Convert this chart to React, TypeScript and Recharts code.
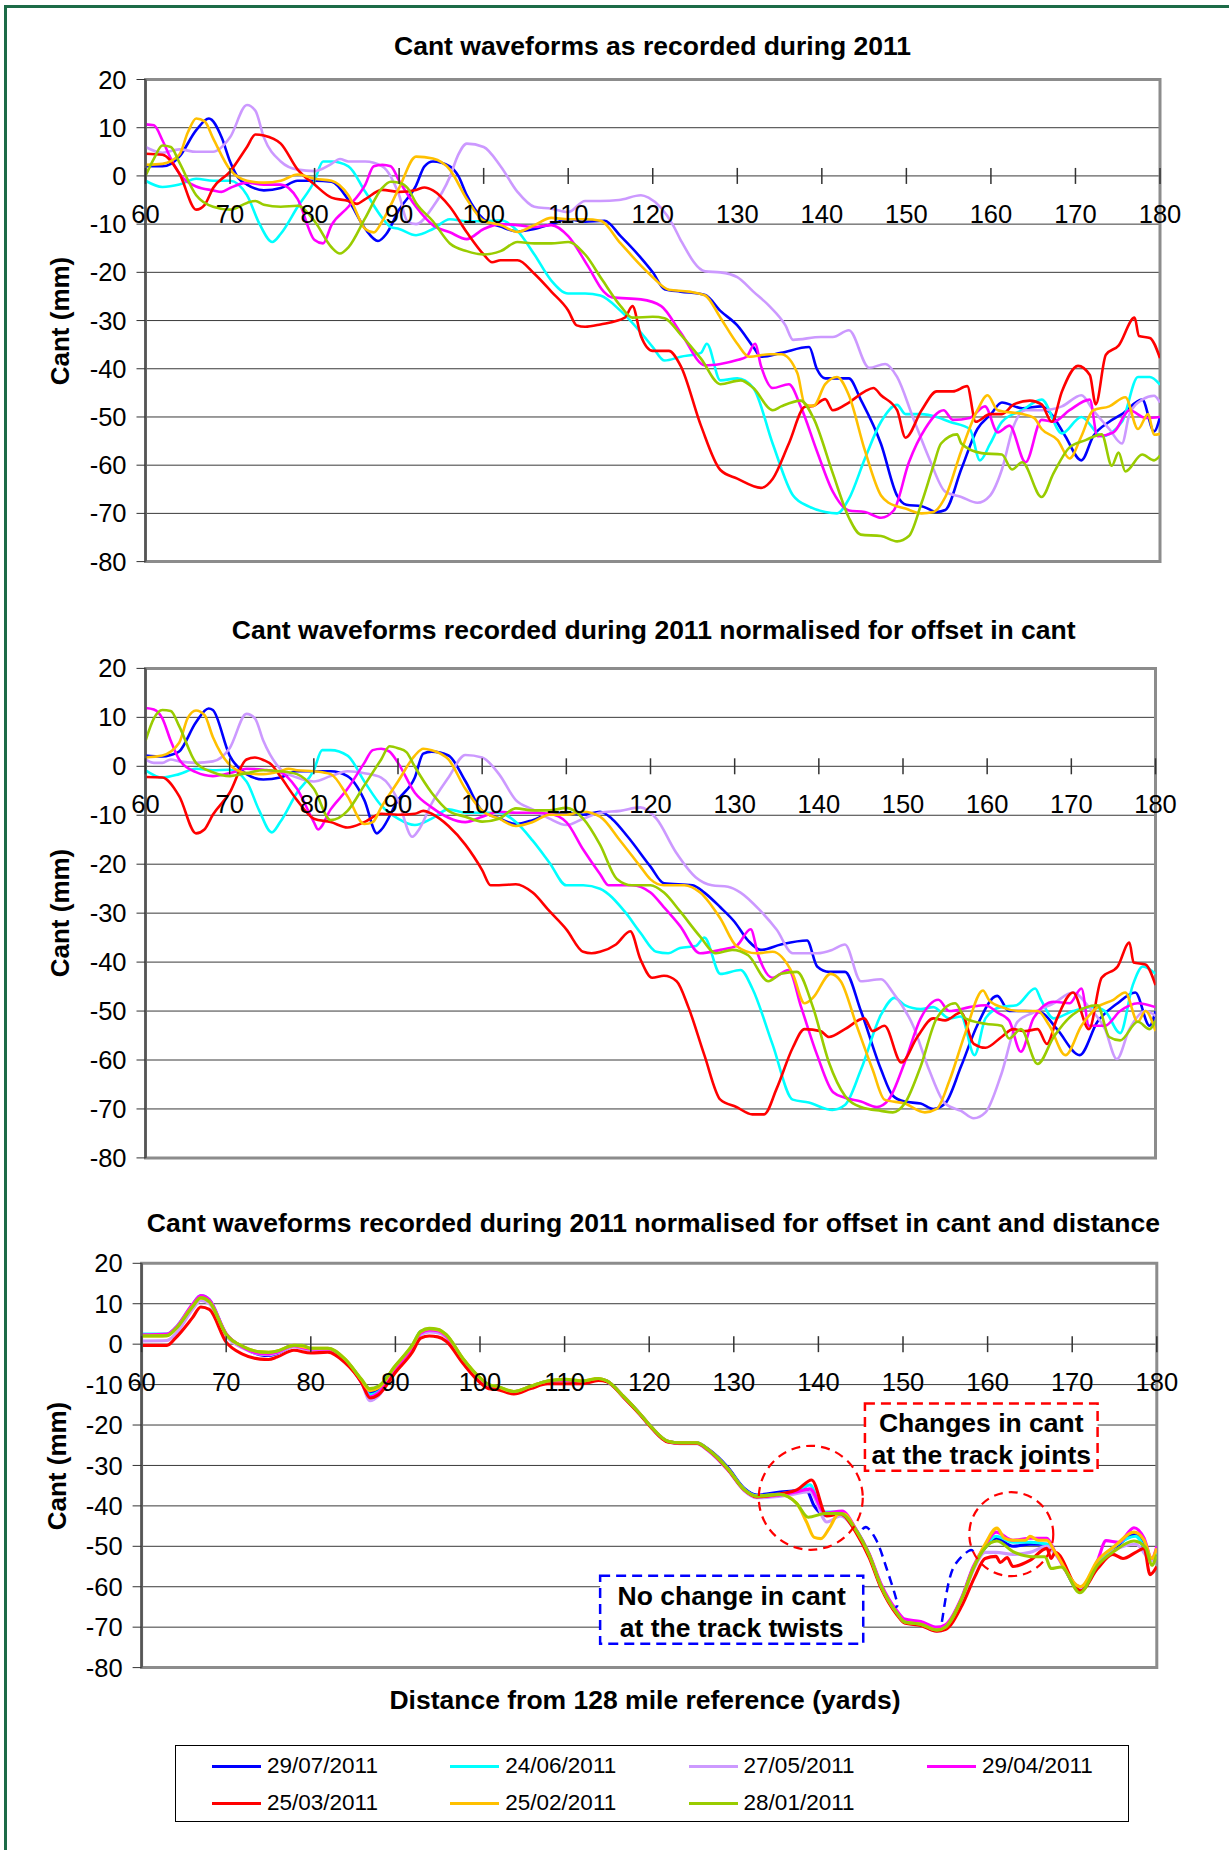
import { LineChart, Line, XAxis, YAxis, CartesianGrid, ReferenceDot, ReferenceArea } from "recharts"

type Pt = [number, number]

const dates = ["29/07/2011", "24/06/2011", "27/05/2011", "29/04/2011", "25/03/2011", "25/02/2011", "28/01/2011"]
const colours = ["#0000ff", "#00ffff", "#cc99ff", "#ff00ff", "#ff0000", "#ffc000", "#99cc00"]
const xTicks = [60, 70, 80, 90, 100, 110, 120, 130, 140, 150, 160, 170, 180]
const yTicks = [20, 10, 0, -10, -20, -30, -40, -50, -60, -70, -80]

const titles = [
  "Cant waveforms as recorded during 2011",
  "Cant waveforms recorded during 2011 normalised for offset in cant",
  "Cant waveforms recorded during 2011 normalised for offset in cant and distance",
]
const yLabel = "Cant (mm)"
const xLabel = "Distance from 128 mile reference (yards)"
const jointsNote = ["Changes in cant", "at the track joints"]
const twistsNote = ["No change in cant", "at the track twists"]

// chart 1 - as recorded (distance in yards, cant in mm)
const blue1: Pt[] = [[60,2],[62,2],[63,2.5],[64,4],[66,9.5],[67.5,11.9],[69,8],[70,3],[71,-0.5],[72,-1.8],[74,-3],[76,-2.5],[78,-1],[80,-1],[82,-1.2],[84,-5],[86,-11],[87.5,-13.5],[88.5,-12],[90,-7],[92,-2],[93,2],[94,3],[96,2],[97,0],[98,-4],[100,-9],[102,-10.5],[104,-11.5],[106,-11],[108,-10],[110,-9],[112,-9.5],[114.3,-9.3],[116.2,-12.5],[118.6,-17],[120,-20],[121.4,-23.5],[123.3,-24],[126.2,-24.7],[128,-28],[130,-31],[131.9,-35.5],[132.8,-37.5],[135.2,-36.7],[138.5,-35.5],[139.4,-40],[140.4,-42],[143.2,-42],[144.6,-46.4],[147,-55.6],[148.9,-66.3],[150,-68.2],[151.8,-68.5],[153.6,-69.7],[154.6,-69.3],[156.5,-60.8],[158.4,-52.5],[160,-49.4],[161.3,-47],[163.7,-48.2],[166,-47.8],[167.4,-50],[168.8,-54],[170.7,-59],[172.1,-54],[174,-51],[175.5,-49.4],[177.9,-46.4],[179.3,-53],[180,-50]]
const cyan1: Pt[] = [[60,-1],[62,-2.3],[64,-1.8],[66,-0.6],[68,-1],[70,-1],[72,-4],[73.5,-10],[75,-13.7],[76,-12],[78,-6.4],[80,-1],[81,3],[82,3],[84,2],[86,-3.3],[88,-8.7],[89,-10.6],[90,-11],[92,-12.3],[94,-11],[96,-9],[98,-9.4],[100,-9.4],[102,-9.2],[104,-11.4],[106,-16.3],[108,-21.7],[110,-24.4],[112,-24.4],[113.8,-24.8],[116.2,-28],[118.6,-32.5],[120,-35.5],[121.4,-38.3],[123.3,-37.5],[125.7,-36.7],[126.4,-34.8],[128,-42.4],[130,-42],[131.9,-44],[134.2,-55.6],[136.6,-66.3],[138.5,-68.6],[140.4,-69.7],[141.8,-70],[143.2,-67],[145.1,-58.6],[147,-51],[148.9,-47.5],[149.9,-49.4],[151.8,-49.4],[153.6,-50],[155.1,-51],[157.5,-52.5],[158.7,-59],[159.9,-55.6],[161.3,-51],[163.7,-48.6],[166,-46.4],[168.4,-53.4],[170.7,-50],[173.1,-54],[175.5,-51],[177.4,-41.7],[178.8,-41.7],[180,-43.3]]
const lav1: Pt[] = [[60,6],[62,4.8],[64,5.5],[66,5],[68,5],[70,8],[72,14.7],[73,13.5],[74,8],[76,3],[78,1.3],[80,1],[82,2.5],[83,3.5],[84,3],[86,3],[88,2],[90,-4],[91,-9.5],[92,-10],[94,-6.4],[96,-0.2],[97,4.4],[98,6.7],[100,6],[102,2],[104,-3.3],[106,-6.4],[108,-6.8],[110,-7.5],[112,-5.2],[113.8,-5.2],[116,-5],[118.6,-4],[119.5,-4.5],[122.4,-10.2],[123.3,-13.3],[126.2,-19.8],[128,-20],[130,-21],[131.9,-24],[133.8,-27],[135.7,-31],[136.6,-34],[139.9,-33.4],[141.3,-33.4],[143.2,-32],[145.6,-39.8],[147.5,-39],[148.9,-41.7],[150.8,-50.2],[152.7,-58.6],[154.6,-65.5],[156.5,-66.6],[158.4,-67.8],[159.9,-66.3],[161.3,-60.9],[162.7,-51.8],[164.1,-48.6],[166,-48.6],[168.4,-47.8],[170.7,-45.5],[172.1,-48.6],[174,-52.5],[175.5,-55.5],[176.4,-49.4],[177.9,-46.4],[179.3,-45.6],[180,-47]]
const mag1: Pt[] = [[60,10.7],[61,10.5],[62,7.4],[63,3.6],[64,0.5],[66,-2.2],[68,-3],[69,-3.3],[70,-2.5],[72,-1.4],[74,-1.8],[76,-1.8],[78,-4.8],[80,-13.3],[81,-14],[82,-10.2],[84,-6.4],[86,-1.8],[87,2],[88,2.3],[89,2],[90,-1],[92,-6.4],[94,-10.2],[96,-11.7],[98,-13.1],[100,-11],[102,-10],[104,-10.2],[106,-10.6],[108,-10.2],[110,-12.5],[112.3,-18.6],[114.2,-24],[115.2,-25.2],[118.6,-25.6],[121,-27],[123.3,-32.5],[126.2,-39.3],[128,-39],[130,-38.2],[131.1,-37.5],[132.1,-34.8],[132.8,-39.4],[134.2,-44],[136.1,-43.2],[137.5,-47.8],[139.4,-57],[141.3,-65.5],[143.2,-69.4],[145.1,-69.7],[147,-70.9],[148.5,-69.4],[150.3,-59.4],[152.2,-52.5],[154.4,-48.6],[155.5,-50.6],[157.5,-50.2],[159.3,-47.8],[160.8,-53.2],[162.2,-51.8],[164.1,-59.4],[166,-50.6],[167.4,-51],[169.3,-48.6],[171.7,-46.4],[172.6,-54],[174.5,-53.2],[176.4,-48.6],[178.3,-50.2],[180,-50]]
const red1: Pt[] = [[60,4.6],[62,4.4],[64,0.5],[66,-7],[67,-6],[68,-2.5],[70,0.9],[72,6],[73,8.6],[74,8.4],[76,6.7],[78,1.3],[80,-1.8],[82,-4.5],[84,-5.2],[85,-5.8],[86,-4.8],[88,-2.9],[90,-3.3],[92,-2.9],[93,-2.4],[94,-3],[96,-6.4],[98,-11.7],[100,-16.3],[101,-17.9],[102,-17.5],[104,-17.5],[106,-20.3],[108,-24],[110,-27.9],[111,-31],[112,-31.3],[113.8,-30.8],[116.7,-29.4],[117.6,-27],[118.6,-33.2],[120,-36.3],[121.9,-36.3],[123.3,-39.4],[125.7,-51.8],[128,-61],[130,-62.8],[132.8,-64.7],[134.2,-62.8],[136.1,-55.5],[138,-47.9],[139,-47.7],[140.4,-46.3],[141.3,-48.6],[143.2,-47],[145.1,-44.7],[146.1,-44],[147,-45.5],[148.9,-48.6],[149.9,-54.3],[151.8,-48.6],[153.6,-44.7],[155.5,-44.7],[157.2,-43.6],[158.2,-51],[159.9,-49.4],[161.3,-49.4],[162.7,-47.4],[164.6,-46.6],[166,-47.4],[167.2,-51],[168.4,-44.7],[170.3,-39.4],[171.7,-41.3],[172.4,-47.4],[173.6,-37.1],[175.1,-35.2],[177,-29.4],[177.5,-33.2],[178.8,-33.6],[180,-37.8]]
const yel1: Pt[] = [[60,2.3],[62,2.5],[64,4.4],[65,9],[66,11.9],[67,11.3],[68,7.8],[70,1.3],[72,-1],[74,-1.4],[76,-1],[78,0.3],[80,-0.6],[82,-1],[84,-4],[86,-11],[87,-11.7],[88,-9.4],[90,-2.5],[92,4],[94,3.6],[96,1.3],[98,-4.8],[100,-9.3],[102,-10.2],[104,-11.6],[106,-10.2],[108,-8.7],[110,-9],[112,-9],[113.8,-9.3],[116.2,-14],[118.6,-18.6],[120,-21],[121.9,-23.6],[124.3,-24],[126.2,-24.8],[128,-29.4],[130,-34.8],[131.4,-37.5],[133.8,-37],[135.2,-37],[137.1,-40.9],[138,-47.4],[139,-47.7],[140.4,-43.2],[141.8,-41.7],[143.2,-45.5],[145.1,-57],[147,-66.3],[147.9,-67.8],[149.9,-69],[151.8,-70],[153.2,-69.7],[154.6,-66.6],[156.5,-57],[158.4,-48.6],[159.6,-45.5],[160.8,-48.6],[163.7,-49.4],[165.1,-50.2],[166,-52.5],[167.9,-54.8],[169.3,-58.6],[170.7,-54],[172.1,-48.6],[174,-47.8],[175.9,-45.9],[177.4,-52.5],[178.6,-49.4],[179.3,-53.7],[180,-53.5]]
const grn1: Pt[] = [[60,0],[61,3.6],[62,6.3],[63,6],[64,2.8],[66,-4],[68,-6.4],[70,-7],[72,-5.6],[73,-5.2],[74,-6],[76,-6.4],[78,-6.2],[80,-9.4],[82,-14.8],[83,-16.1],[84,-14.8],[86,-8.7],[88,-2.5],[89,-1.2],[90,-1.4],[91,-2.5],[92,-5.6],[94,-9.4],[96,-14],[98,-15.6],[100,-16.3],[102,-15.6],[104,-13.7],[106,-14],[108,-14],[110,-13.7],[112,-16.3],[114,-21.5],[116.2,-27],[117.6,-29.4],[120,-29.2],[121.4,-29.5],[123.3,-32.9],[125.7,-37.9],[128,-43.2],[130.4,-42.4],[131.9,-44],[134.2,-48.6],[135.2,-47.8],[137.5,-46.6],[139,-50.2],[141.3,-61.7],[143.2,-70.9],[144.6,-74.4],[147,-74.7],[148.9,-75.8],[150.3,-74.7],[151.8,-67.8],[153.2,-60.1],[154.1,-55.5],[156,-53.6],[156.5,-55.5],[158.9,-57.5],[161.3,-57.8],[162.5,-60.9],[163.7,-59.4],[166,-66.6],[167.4,-61.7],[169.3,-56.3],[171.2,-54.8],[173.1,-53.6],[174.3,-60.1],[175.1,-57.4],[175.9,-61.3],[177.9,-57.8],[179.3,-59],[180,-58]]

// chart 2 - normalised for offset in cant
const blue2: Pt[] = [[60,2.2],[62,2],[63,2.3],[64,3],[66,9],[67.5,11.8],[68,11.5],[70,2.2],[72,-1.6],[74,-2.7],[76,-2.3],[78,-1],[80,-1],[82,-1],[84,-2],[86,-6.9],[87.5,-13.7],[88,-13],[90,-6.9],[92,-2.3],[93,2.6],[94,3],[96,2.2],[98,-3],[100,-9.1],[102,-10.6],[104,-11.8],[106,-11],[108,-9.7],[110,-9.5],[112,-9.9],[114,-9.3],[115.4,-10.7],[117.3,-14.4],[120,-20.5],[121.6,-23.9],[125,-24.3],[126.4,-25.8],[128.3,-28.8],[130,-31.8],[131.6,-35.6],[133.1,-37.5],[135.5,-36.4],[138.6,-35.6],[139.8,-40.9],[141.2,-42],[143.1,-42],[145,-50],[147.4,-62],[148.8,-67.3],[150.2,-68.5],[152.1,-68.9],[153.6,-70],[155,-68.9],[156.9,-61.3],[158.8,-53],[161.2,-46.9],[162.6,-50],[164.5,-50],[166.4,-50.3],[168.3,-53.7],[171,-59],[173.1,-52.2],[175.5,-48.4],[177.6,-46.2],[179.3,-53],[180,-50]]
const cyan2: Pt[] = [[60,-0.8],[62,-2.3],[64,-1.6],[66,-0.5],[68,-0.8],[70,-0.7],[72,-3.1],[73.5,-9],[75,-13.5],[76,-11.4],[78,-5.4],[80,-0.8],[81,3.3],[82,3.3],[84,2.2],[86,-3.1],[88,-8],[90,-10.7],[92,-12],[94,-10.7],[96,-8.8],[98,-9.5],[100,-9.5],[102,-9.5],[104,-11.4],[106,-15.2],[108,-19.7],[110,-24.3],[112,-24.3],[114,-25],[116.9,-29.6],[118.8,-34],[120.7,-37.9],[122.1,-38.2],[123.5,-37.1],[125.4,-36.7],[126.4,-35],[128.3,-42.4],[130.7,-41.6],[132.1,-45.4],[134.5,-56.8],[136.9,-68.1],[138.8,-68.7],[141.6,-70.2],[143.1,-69.2],[145,-62],[147.4,-50.7],[149,-47.3],[150.2,-48.8],[152.1,-49.6],[153.6,-49.2],[155.5,-51.5],[156.9,-51.1],[158.5,-59],[159.8,-51.5],[161.6,-49.2],[163.5,-48.8],[165.7,-45.4],[166.4,-47.7],[167.9,-51.5],[170.2,-50],[172.5,-49.2],[174,-50],[175.8,-54.5],[177.3,-44.7],[178.5,-40.9],[180,-42.4]]
const lav2: Pt[] = [[60,1.4],[61,0.7],[62,0.7],[63,1.4],[64,1],[66,0.7],[68,1],[70,3.7],[72,10.7],[73,9.8],[74,5.2],[76,-0.5],[78,-2.3],[80,-3.1],[82,-2],[84,-1],[86,-1.4],[88,-2.3],[90,-6.9],[91.7,-14.4],[92.5,-12.9],[94,-7.6],[96,-2.3],[98,2.3],[100,1.8],[102,-1.6],[104,-6.9],[106,-8.8],[108,-10.7],[110,-12],[112,-10.7],[114,-9.5],[116.4,-9.1],[118.8,-8.4],[120.7,-10.7],[123,-17.5],[125.4,-22.7],[127.3,-24.3],[129.2,-24.6],[130.7,-25.8],[133.1,-29.6],[135,-33.4],[136.9,-38.2],[139.8,-38.2],[141.6,-37.5],[143.1,-36.4],[145,-43.9],[147.4,-43.5],[148.8,-46.2],[151.2,-53],[153.1,-62],[155,-68.9],[156.9,-70.4],[158.4,-71.9],[159.8,-70.7],[161.7,-62.8],[163.6,-52.2],[165.5,-50.3],[167.9,-48.4],[170.2,-46.2],[172.1,-49.2],[174,-53.7],[175.4,-59.8],[176.9,-53.7],[178.8,-50],[180,-51]]
const mag2: Pt[] = [[60,11.9],[61,11.6],[62,9.8],[63,5.2],[64,1.4],[66,-1.2],[68,-2],[70,-1.4],[72,-0.5],[74,-0.7],[76,-1.2],[78,-4.6],[80,-11.4],[80.5,-12.9],[82,-8.8],[84,-4.6],[86,0.7],[87,3.3],[88,3.6],[89,3],[90,0.7],[92,-5.4],[94,-8.4],[96,-10.5],[98,-11.4],[100,-10.3],[102,-9.3],[104,-9.5],[106,-9.5],[108,-9.7],[110,-11.4],[112,-17],[114,-22],[115,-24.3],[117.8,-24.3],[120,-25.8],[121.6,-28.8],[123.5,-32.6],[125.9,-38.2],[128.3,-37.5],[130.2,-36.7],[131.9,-33.3],[132.8,-38.6],[134.5,-43.2],[136.4,-41.6],[137.9,-49.2],[139.8,-59],[141.7,-66.6],[143.1,-67.7],[145,-68.5],[146.9,-69.6],[148.3,-68.1],[150.2,-60.5],[152.1,-51.5],[154.2,-47.7],[155.5,-50],[157.9,-49.2],[159.8,-48.8],[161.2,-50.3],[162.6,-51.9],[164,-58.3],[165.5,-51.5],[167.9,-48.1],[169.8,-48.4],[171.2,-45.4],[172.1,-53],[174,-53],[175.8,-50],[177.9,-48.4],[180,-49.2]]
const red2: Pt[] = [[60,-2.2],[62,-2.3],[64,-6.1],[66,-13.7],[67,-12.9],[68,-9.9],[70,-5.4],[72,1.4],[73,1.8],[74,1.3],[75,0.3],[76,-2],[78,-6.9],[80,-10.7],[82,-11.4],[84,-12.5],[86,-11.4],[88,-9.7],[90,-9.9],[92,-9.7],[93,-9.1],[94,-9.7],[96,-12.2],[98,-16],[100,-21.2],[101,-24.3],[102,-24.3],[104,-24.1],[106,-25.8],[108,-29.6],[110,-33.3],[112,-37.9],[113,-38.2],[114,-37.9],[115.9,-36.4],[117.6,-33.7],[118.8,-39.4],[120.2,-43.2],[121.6,-42.8],[123.1,-43.9],[124.5,-49.2],[126.4,-59],[128.3,-68.1],[130.2,-69.6],[132.1,-71.1],[133.5,-71.1],[135,-65.8],[136.9,-57.5],[138.3,-53.7],[140.2,-54.1],[141.2,-55.3],[143.1,-53.7],[145.4,-51.5],[146.4,-54.1],[147.8,-53],[149.8,-60.5],[151.7,-55.3],[153.6,-51.5],[155,-51.9],[156.9,-50.3],[158.4,-56.7],[159.8,-57.5],[161.7,-55.3],[163.1,-53.7],[164.5,-54.1],[166,-53.7],[167.1,-56.7],[168.3,-51.5],[170.2,-46.2],[172.1,-53.7],[173.6,-43.2],[175.5,-40.9],[176.9,-36],[177.4,-40.1],[178.8,-40.5],[180,-44.7]]
const yel2: Pt[] = [[60,1.8],[62,2.2],[64,4.8],[65,9.8],[66,11.4],[67,10.5],[68,6],[70,0.3],[72,-1.4],[74,-1.6],[76,-1],[77,-0.5],[78,-0.8],[80,-1],[82,-1.6],[84,-6.1],[86,-11.8],[87,-11.4],[88,-8.4],[90,-3.1],[92,2.2],[93,3.6],[94,3.3],[96,1.4],[98,-4.6],[100,-9.1],[102,-10.7],[104,-12.2],[106,-11.4],[108,-9.9],[110,-9.9],[112,-9.3],[114,-10.3],[116.4,-15.2],[118.8,-20.5],[120,-23.1],[121.6,-24.3],[124,-24.3],[125.9,-25.8],[128.3,-31.1],[130.2,-36.7],[132.6,-38.2],[134.5,-37.9],[136.9,-42.4],[138.3,-48.4],[139.3,-47.3],[141.4,-42.4],[142.6,-43.9],[144.5,-53],[146.4,-62],[147.8,-68.1],[150.2,-68.9],[152.6,-70.7],[154,-70],[155.5,-64.3],[157.4,-54.5],[159.5,-45.8],[160.2,-47.7],[161.7,-49.2],[164,-50],[166,-50],[167.4,-53],[169.3,-59],[171.2,-53],[173.1,-49.2],[175,-47.7],[176.4,-46.2],[177.9,-52.2],[178.8,-50],[180,-54.1]]
const grn2: Pt[] = [[60,5.2],[61,9.8],[62,11.5],[63,11.3],[64,8.2],[66,0.7],[68,-1.2],[70,-2],[72,-1.4],[74,-0.8],[76,-1],[78,-1.6],[80,-4.6],[82,-11],[84,-9.1],[86,-3.9],[88,1.4],[89,4.1],[90,3.7],[91,2.9],[92,-0.1],[94,-5.4],[96,-9.1],[98,-10.3],[100,-11.3],[102,-10.7],[104,-8.6],[106,-9],[108,-9],[110,-8.5],[112,-10.7],[114,-16],[116,-23],[117.8,-24.3],[120,-24.3],[121.6,-25.8],[123.5,-29.6],[125.9,-34.8],[127.8,-38.2],[129.7,-37.5],[131.6,-38.6],[134,-43.9],[135.5,-42.4],[137.4,-42],[139.3,-49.2],[141.2,-60.5],[143.1,-67.3],[145,-69.6],[147.4,-70.4],[148.8,-70.7],[150.2,-68.9],[152.1,-61.3],[154,-51.5],[156.2,-48.4],[157.4,-51.5],[159.8,-52.6],[161.7,-53],[162.6,-55.6],[164,-53.7],[166,-60.8],[167.9,-55.3],[170.2,-50.7],[173.1,-48.8],[174.5,-55.3],[175.8,-56],[177.9,-52.2],[179.3,-53.7],[180,-52]]

// chart 3 - normalised for offset in cant and distance
const blue3: Pt[] = [[60,2.2],[63,2.3],[64,3.8],[66,9.4],[67,11.6],[68,10.7],[70,2.4],[72,-0.8],[74,-2.6],[75,-2.8],[76,-2.3],[78,-0.5],[80,-1.3],[82,-1.2],[84,-3.8],[86,-9],[87,-12],[88,-11.4],[90,-5.6],[92,-0.5],[93,2.8],[94,3.3],[95,3.2],[96,2],[98,-3.8],[100,-8.5],[101,-10.1],[102,-10.6],[104,-11.8],[106,-10.5],[108,-9.2],[110,-8.9],[112,-9.3],[114,-8.6],[115,-9.1],[117,-13],[118.9,-17.2],[120.3,-20.6],[122.2,-24],[123.7,-24.4],[125.6,-24.4],[127,-26],[129.3,-30.5],[131.2,-35.6],[132.7,-37.3],[135.5,-36.6],[137.5,-36.2],[138.5,-35.8],[139.5,-40],[140.8,-42.3],[142.6,-41.8],[144.5,-46.2],[146,-52.1],[147.4,-59.8],[149.3,-66.6],[150.2,-68.7],[152.1,-69.3],[154,-70.7],[155,-70],[156.9,-63.2],[158.3,-55.5],[159.7,-50.4],[161,-48],[163,-50],[165,-49.5],[167,-49.5],[168,-51.5],[171,-61],[173,-54.5],[175,-50.5],[177.5,-47],[179.4,-53],[180,-52]]
const cyan3: Pt[] = [[60,2.5],[63,2.5],[64,4],[66,9.7],[67,12],[68,11],[70,2.5],[72,-0.7],[74,-2.2],[75,-2.3],[76,-2],[78,-0.4],[80,-1.1],[82,-1.1],[84,-3.8],[86,-9],[87,-12.5],[88,-11.8],[90,-5.7],[92,-0.4],[93,3.2],[94,3.5],[95,3.4],[96,2.2],[98,-3.7],[100,-8.5],[101,-10.1],[102,-10.5],[104,-11.8],[106,-10.5],[108,-9.2],[110,-8.8],[112,-9.2],[114,-8.6],[115,-9.2],[117,-13.1],[118.9,-17.3],[120.3,-20.7],[122.2,-24.1],[123.7,-24.5],[125.6,-24.4],[127,-26.2],[129.3,-30.8],[131.2,-35.8],[132.7,-37.5],[135.5,-37],[137.5,-36.2],[139,-34.8],[140.5,-41.5],[142.6,-41.5],[144.5,-46],[146,-52],[147.4,-59.5],[149.3,-66.3],[150.2,-68.3],[152.1,-68.9],[154,-70.3],[155,-69.7],[156.9,-63],[158.3,-55.3],[159.7,-50.2],[161,-47.5],[163,-49],[165,-49],[167,-49.5],[168,-51.5],[171,-60.5],[173,-54],[175,-50],[177.5,-47.5],[179.4,-53],[180,-51.5]]
const lav3: Pt[] = [[60,0.8],[63,0.9],[64,2.5],[66,8.5],[67,10.8],[68,10],[70,2],[72,-1],[74,-2.5],[75,-2.6],[76,-2.2],[78,-0.6],[80,-1.5],[82,-1.5],[84,-4.2],[86,-9.5],[87,-14],[88,-12.8],[90,-6.2],[92,-1],[93,2.3],[94,3],[95,2.8],[96,1.7],[98,-4],[100,-8.8],[101,-10.3],[102,-10.8],[104,-12],[106,-10.7],[108,-9.4],[110,-9],[112,-9.3],[114,-8.7],[115,-9.2],[117,-13.2],[118.9,-17.4],[120.3,-20.8],[122.2,-24.2],[123.7,-24.6],[125.6,-24.6],[127,-26.4],[129.3,-31.2],[131.2,-36.2],[132.7,-38],[136,-37.5],[139,-36.5],[141,-44],[142.6,-42.5],[144.5,-46.5],[146,-52.3],[147.4,-60],[149.3,-66.8],[150.2,-68.9],[152.1,-69.5],[154,-71],[155,-70.4],[156.9,-63.6],[158.3,-56],[159.7,-51.5],[161,-51.5],[163,-52],[165,-51.5],[167,-50],[168,-52],[171,-60.5],[173,-55],[175,-51],[177.5,-49.5],[179.4,-53.5],[180,-52.5]]
const mag3: Pt[] = [[60,2.3],[63,2.5],[64,4],[66,9.8],[67,12],[68,11],[70,2.6],[72,-0.8],[74,-2.3],[75,-2.4],[76,-2],[78,-0.4],[80,-1.2],[82,-1.2],[84,-4],[86,-9.5],[87,-13],[88,-12],[90,-6],[92,-0.8],[93,2.8],[94,3.5],[95,3.3],[96,2],[98,-4],[100,-8.7],[101,-10.2],[102,-10.6],[104,-11.9],[106,-10.6],[108,-9.3],[110,-8.9],[112,-9.3],[114,-8.6],[115,-9.2],[117,-13.1],[118.9,-17.3],[120.3,-20.7],[122.2,-24.1],[123.7,-24.5],[125.6,-24.5],[127,-26.3],[129.3,-31],[131.2,-36],[132.7,-37.7],[135.5,-37.3],[137.5,-36.5],[139,-35.8],[140.8,-41.8],[142.8,-41.3],[144.5,-46],[146,-51.8],[147.4,-59.3],[149.3,-66],[150.2,-68],[152.1,-68.6],[154,-70],[155,-69.4],[156.9,-62.8],[158.3,-55],[159.7,-49.8],[161,-46.5],[163,-48.5],[165,-48],[167,-48],[168,-51.5],[171,-60],[173,-53.5],[174,-48.6],[175.5,-49],[177.3,-45.4],[178.5,-48],[179.4,-53],[180,-50]]
const red3: Pt[] = [[60,-0.3],[63,-0.3],[64,1.5],[66,6.5],[67,9.2],[68,8.6],[70,0.5],[72,-2.5],[74,-3.7],[75,-3.8],[76,-3.2],[78,-1.5],[80,-2.2],[82,-2],[84,-4.5],[86,-9.5],[87,-13.3],[88,-12.5],[90,-7],[92,-2],[93,1.5],[94,2],[95,1.8],[96,0.7],[98,-4.8],[100,-9.5],[101,-11],[102,-11.2],[104,-12.3],[106,-11],[108,-9.8],[110,-9.8],[112,-9.8],[114,-9],[115,-9.3],[117,-13.2],[118.9,-17.4],[120.3,-20.8],[122.2,-24.2],[123.7,-24.5],[125.6,-24.5],[127,-26.2],[129.3,-31],[131.2,-36],[132.7,-37.8],[135.5,-37],[137.5,-36],[139.2,-33.6],[141,-42.5],[142.6,-42],[144.5,-46.8],[146,-52.8],[147.4,-60.3],[149.3,-67],[150.2,-69],[152.1,-69.6],[154,-71],[155,-70.6],[157,-64.5],[158.5,-57.5],[159.7,-53],[161,-52.5],[161.5,-54],[162.3,-52.8],[163,-55],[165,-53.5],[167,-50.5],[167.5,-53],[168,-51.5],[171,-61],[173,-55.5],[174.8,-52],[176,-53],[177.5,-51.5],[178.5,-50.5],[179.2,-57],[180,-55]]
const yel3: Pt[] = [[60,2],[63,2.1],[64,3.7],[66,9.3],[67,11.4],[68,10.5],[70,2.4],[72,-0.6],[74,-1.9],[75,-2],[76,-1.7],[78,-0.3],[80,-1],[82,-1],[84,-3.6],[86,-8.9],[87,-11.5],[88,-10.8],[90,-5.4],[92,-0.3],[93,3.1],[94,3.8],[95,3.6],[96,2.3],[98,-3.6],[100,-8.4],[101,-10],[102,-10.5],[104,-11.7],[106,-10.4],[108,-9.1],[110,-8.7],[112,-9.1],[114,-8.5],[115,-9.1],[117,-13],[118.9,-17.2],[120.3,-20.6],[122.2,-24],[123.7,-24.4],[125.6,-24.4],[127,-26.1],[129.3,-30.8],[131.2,-35.9],[132.7,-37.6],[135.5,-37.2],[137.4,-39.3],[138.6,-44],[139.5,-47.8],[140.3,-48.1],[141.3,-45.5],[142.4,-42],[143,-42],[144.5,-46.2],[146,-52.1],[147.4,-59.8],[149.3,-66.6],[150.2,-68.7],[152.1,-69.3],[154,-70.7],[155,-70],[156.9,-63.2],[158.3,-55.5],[159.7,-49.5],[161.1,-45.5],[162,-48],[163,-48.5],[164.5,-48.5],[165,-47.5],[166,-48.5],[167,-48.5],[168,-51.5],[171,-60],[173,-53.5],[175,-50],[177.3,-46.5],[178.5,-48.5],[179.4,-53],[180,-50.5]]
const grn3: Pt[] = [[60,2],[63,2.1],[64,3.7],[66,9.2],[67,11.5],[68,10.5],[70,2.4],[72,-0.6],[74,-1.9],[75,-2],[76,-1.7],[78,-0.3],[79,-0.3],[80,-1],[82,-1],[84,-3.6],[86,-8.7],[87,-11],[88,-10.4],[90,-5.3],[92,-0.2],[93,3.2],[94,3.9],[95,3.7],[96,2.4],[98,-3.6],[100,-8.3],[101,-10],[102,-10.4],[104,-11.7],[106,-10.4],[108,-9.1],[110,-8.7],[112,-9.1],[114,-8.5],[115,-9.1],[117,-13],[118.9,-17.2],[120.3,-20.6],[122.2,-24],[123.7,-24.4],[125.6,-24.4],[127,-26.1],[129.3,-30.8],[131.2,-35.9],[132.7,-37.6],[135.5,-37.2],[137.4,-39.3],[138.8,-42.8],[140.8,-41.9],[142.6,-41.9],[144.5,-46.2],[146,-52.1],[147.4,-59.8],[149.3,-66.6],[150.2,-68.7],[152.1,-69.3],[154,-70.7],[155,-70],[156.9,-63.2],[158.3,-55.5],[159.7,-50.4],[161.1,-48.7],[163,-51.3],[165.4,-52.6],[166.8,-52.6],[167.5,-55.5],[168.7,-55.1],[170.9,-61.5],[173,-54.7],[174.9,-51.3],[177.3,-48.7],[178.7,-50.4],[179.4,-54.7],[180,-52.1]]

// dashed outlines marking the track twists on chart 3
const twistA: Pt[] = [[145.2,-45.8],[145.8,-45.4],[146.9,-48.7],[147.8,-53.8],[148.6,-58.9],[149.3,-64],[149.1,-64.9]]
const twistB: Pt[] = [[154.6,-68.7],[155.4,-58.9],[156.4,-53.8],[157.8,-51.1],[158.3,-51.3]]

const chart1 = [blue1, cyan1, lav1, mag1, red1, yel1, grn1]
const chart2 = [blue2, cyan2, lav2, mag2, red2, yel2, grn2]
const chart3 = [blue3, cyan3, lav3, mag3, red3, yel3, grn3]

const FONT = "'Liberation Sans', Arial, Helvetica, sans-serif"
const rows = (pts: Pt[]) => pts.map(([x, y]) => ({ x, y }))

// tick mark crossing the zero line, with its label underneath
const zeroTick = (value: number) => (p: any) => (
  <g>
    <line x1={p.cx} x2={p.cx} y1={p.cy - 8} y2={p.cy + 8} stroke="#333" strokeWidth={1.5} />
    <text x={p.cx} y={p.cy + 38} textAnchor="middle" dominantBaseline="central" fontSize={25.5} fill="#000">
      {value}
    </text>
  </g>
)

const boxLabel = (lines: string[]) => (p: any) => {
  const vb = p.viewBox
  const cx = vb.x + vb.width / 2
  const cy = vb.y + vb.height / 2
  return (
    <text x={cx} y={cy} textAnchor="middle" fontSize={26.5} fontWeight="bold" fill="#000">
      <tspan x={cx} dy={-5}>{lines[0]}</tspan>
      <tspan x={cx} dy={32}>{lines[1]}</tspan>
    </text>
  )
}

type ChartProps = {
  series: Pt[][]
  top: number
  height: number
  margin: { top: number; right: number; bottom: number; left: number }
  lineWidth: number
  notes?: boolean
}

function CantChart({ series, top, height, margin, lineWidth, notes }: ChartProps) {
  return (
    <div style={{ position: "absolute", left: 0, top }}>
      <LineChart width={1229} height={height} margin={margin}>
        <CartesianGrid vertical={false} stroke="#3a3a3a" strokeWidth={1} />
        <XAxis dataKey="x" type="number" domain={[60, 180]} ticks={xTicks} hide height={0} allowDataOverflow />
        <YAxis
          type="number"
          domain={[-80, 20]}
          ticks={yTicks}
          interval={0}
          width={60}
          tickSize={9}
          tickMargin={10}
          tick={{ fontSize: 25.5, fill: "#000" }}
          axisLine={{ stroke: "#555", strokeWidth: 2.5 }}
          tickLine={{ stroke: "#333" }}
          allowDataOverflow
        />
        <ReferenceArea x1={60} x2={180} y1={-80} y2={20} fill="none" stroke="#8c8c8c" strokeWidth={3} />
        {notes && (
          <ReferenceArea x1={145.5} x2={173} y1={-31.3} y2={-14.7} fill="#fff" fillOpacity={1} stroke="#ff0000"
            strokeWidth={2.5} strokeDasharray="10 6" label={boxLabel(jointsNote)} />
        )}
        {notes && (
          <ReferenceArea x1={114.2} x2={145.3} y1={-74.1} y2={-57.3} fill="#fff" fillOpacity={1} stroke="#0000ff"
            strokeWidth={2.5} strokeDasharray="10 6" label={boxLabel(twistsNote)} />
        )}
        {series.map((s, i) => (
          <Line key={dates[i]} data={rows(s)} dataKey="y" type="monotone" stroke={colours[i]} strokeWidth={lineWidth}
            dot={false} activeDot={false} isAnimationActive={false} />
        ))}
        {notes && (
          <Line data={rows(twistA)} dataKey="y" type="natural" stroke="#0000ff" strokeWidth={2.5}
            strokeDasharray="9 6" dot={false} activeDot={false} isAnimationActive={false} />
        )}
        {notes && (
          <Line data={rows(twistB)} dataKey="y" type="natural" stroke="#0000ff" strokeWidth={2.5}
            strokeDasharray="9 6" dot={false} activeDot={false} isAnimationActive={false} />
        )}
        {notes && (
          <ReferenceDot x={139.1} y={-38} r={52} fill="none" stroke="#ff0000" strokeWidth={2.2} strokeDasharray="9 6" />
        )}
        {notes && (
          <ReferenceDot x={162.8} y={-47} r={42} fill="none" stroke="#ff0000" strokeWidth={2.2} strokeDasharray="9 6" />
        )}
        {xTicks.map((t) => (
          <ReferenceDot key={t} x={t} y={0} r={0} shape={zeroTick(t)} />
        ))}
      </LineChart>
    </div>
  )
}

function Centered({ text, cx, cy, size }: { text: string; cx: number; cy: number; size: number }) {
  return (
    <div style={{ position: "absolute", left: cx - 600, top: cy - 20, width: 1200, lineHeight: "40px",
      textAlign: "center", fontSize: size, fontWeight: "bold", whiteSpace: "nowrap" }}>
      {text}
    </div>
  )
}

function Vertical({ text, cx, cy }: { text: string; cx: number; cy: number }) {
  return (
    <div style={{ position: "absolute", left: cx, top: cy, transform: "translate(-50%, -50%) rotate(-90deg)",
      fontSize: 26, fontWeight: "bold", whiteSpace: "nowrap", lineHeight: "30px" }}>
      {text}
    </div>
  )
}

function LegendBox() {
  return (
    <div style={{ position: "absolute", left: 175, top: 1745, width: 954, height: 77, border: "1.5px solid #000",
      boxSizing: "border-box" }}>
      {dates.map((d, i) => {
        const left = 36 + (i % 4) * 238.3
        const mid = 20 + Math.floor(i / 4) * 37.3
        return (
          <div key={d}>
            <div style={{ position: "absolute", left, top: mid - 1.5, width: 49, height: 3, background: colours[i] }} />
            <div style={{ position: "absolute", left: left + 55, top: mid - 13, lineHeight: "26px", fontSize: 22.5,
              whiteSpace: "nowrap" }}>
              {d}
            </div>
          </div>
        )
      })}
    </div>
  )
}

export default function App() {
  return (
    <div style={{ position: "absolute", left: 0, top: 0, width: 1229, height: 1850, overflow: "hidden",
      background: "#fff", fontFamily: FONT, color: "#000" }}>
      <div style={{ position: "absolute", left: 4, top: 5, width: 1300, height: 1900, borderLeft: "3px solid #1d6b47",
        borderTop: "3px solid #1d6b47" }} />
      <Centered text={titles[0]} cx={652.5} cy={46} size={26.5} />
      <Centered text={titles[1]} cx={653.7} cy={630} size={26.5} />
      <Centered text={titles[2]} cx={653.4} cy={1223} size={26.5} />
      <Vertical text={yLabel} cx={60} cy={320.5} />
      <Vertical text={yLabel} cx={60} cy={913} />
      <Vertical text={yLabel} cx={57} cy={1465.5} />
      <CantChart series={chart1} top={0} height={600} lineWidth={2.6}
        margin={{ top: 79.5, right: 69, bottom: 38.4, left: 85.5 }} />
      <CantChart series={chart2} top={600} height={600} lineWidth={2.6}
        margin={{ top: 68.4, right: 73.5, bottom: 42.1, left: 85.5 }} />
      <CantChart series={chart3} top={1190} height={540} lineWidth={3.1}
        margin={{ top: 73.3, right: 72.2, bottom: 62.4, left: 81.6 }} notes />
      <Centered text={xLabel} cx={645} cy={1700} size={26.5} />
      <LegendBox />
    </div>
  )
}
